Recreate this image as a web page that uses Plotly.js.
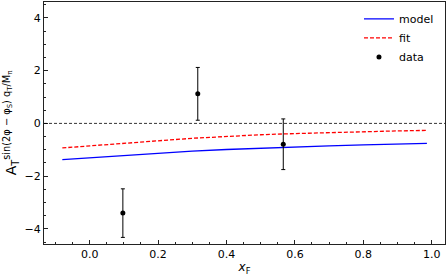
<!DOCTYPE html>
<html>
<head>
<meta charset="utf-8">
<script src="https://cdn.plot.ly/plotly-3.0.1.min.js"></script>
<style>html,body{margin:0;padding:0;background:#fff;}#chart{width:447px;height:276px;}</style>
</head>
<body>
<div id="chart"></div>
<script>
// Curves
const curveX = [-0.08, 0.0, 0.1, 0.2, 0.3, 0.4, 0.5, 0.6, 0.7, 0.8, 0.9, 0.986];
const modelY = [-1.37, -1.30, -1.22, -1.13, -1.05, -0.99, -0.935, -0.89, -0.85, -0.815, -0.785, -0.755];
const fitY   = [-0.93, -0.86, -0.76, -0.66, -0.565, -0.49, -0.43, -0.385, -0.345, -0.31, -0.285, -0.265];
// Data points
const dataX   = [0.097, 0.316, 0.566];
const dataY   = [-3.40, 1.12, -0.79];
const dataErr = [0.92, 1.00, 0.96];

const font = {family: 'DejaVu Sans, sans-serif', size: 11, color: '#000'};
const titleFont = {family: 'DejaVu Sans, sans-serif', size: 14, color: '#000'};

const traces = [
  {x: curveX, y: modelY, mode: 'lines', name: 'model', line: {color: '#0000ff', width: 1.3}},
  {x: curveX, y: fitY, mode: 'lines', name: 'fit', line: {color: '#ff0000', width: 1.3, dash: '4px,2px'}},
  {x: dataX, y: dataY, mode: 'markers', name: 'data',
   marker: {color: '#000', size: 5},
   error_y: {type: 'data', array: dataErr, visible: true, color: '#000', thickness: 1, width: 2}}
];

const axisCommon = {
  showline: true, mirror: true, linecolor: '#222', linewidth: 1,
  ticks: 'inside', ticklen: 4, tickwidth: 1, tickcolor: '#222',
  showgrid: false, zeroline: false, tickfont: font
};

const layout = {
  width: 447, height: 276,
  margin: {l: 44, r: 2, t: 2, b: 32},
  paper_bgcolor: '#fff', plot_bgcolor: '#fff',
  font: font,
  showlegend: true,
  legend: {x: 0.985, xanchor: 'right', y: 0.99, yanchor: 'top', bgcolor: 'rgba(0,0,0,0)', font: font, itemwidth: 30, tracegroupgap: 0},
  xaxis: Object.assign({}, axisCommon, {
    range: [-0.1336, 1.0389], tickvals: [0, 0.2, 0.4, 0.6, 0.8, 1.0], ticktext: ['0.0','0.2','0.4','0.6','0.8','1.0'],
    minor: {ticks: 'inside', ticklen: 2, dtick: 0.05, tickcolor: '#222', showgrid: false},
    title: {text: '<i>x</i><sub>F</sub>', font: {family: 'DejaVu Sans, sans-serif', size: 12, color: '#000'}, standoff: 3}
  }),
  yaxis: Object.assign({}, axisCommon, {
    range: [-4.57, 4.6], tickvals: [-4, -2, 0, 2, 4], ticktext: ['\u22124','\u22122','0','2','4'],
    minor: {ticks: 'inside', ticklen: 2, dtick: 0.5, tickcolor: '#222', showgrid: false},
    title: {text: 'A<sub>T</sub><sup>sin(2φ − φ<sub>S</sub>) q<sub>T</sub>/M<sub>π</sub></sup>', font: titleFont, standoff: 4}
  }),
  shapes: [{type: 'line', xref: 'paper', x0: 0, x1: 1, yref: 'y', y0: 0, y1: 0, line: {color: '#000', width: 0.8, dash: '3px,2px'}}]
};

Plotly.newPlot('chart', traces, layout, {staticPlot: true, displayModeBar: false});
</script>
</body>
</html>
